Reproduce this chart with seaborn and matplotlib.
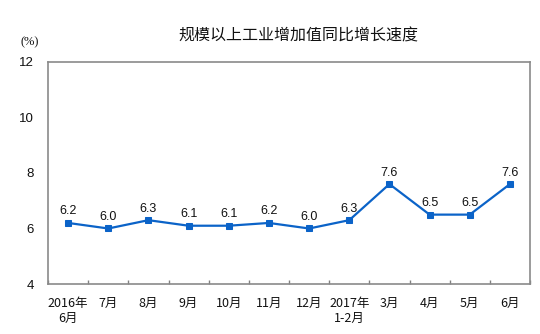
import numpy as np
import pandas as pd
import matplotlib
matplotlib.use("Agg")
import matplotlib.pyplot as plt
import seaborn as sns

months = ["2016年\n6月", "7月", "8月", "9月", "10月", "11月", "12月",
          "2017年\n1-2月", "3月", "4月", "5月", "6月"]
growth = [6.2, 6.0, 6.3, 6.1, 6.1, 6.2, 6.0, 6.3, 7.6, 6.5, 6.5, 7.6]
y_ticks = [4, 6, 8, 10, 12]
title = "规模以上工业增加值同比增长速度"

sns.set_theme(style="white")
plt.rcParams["font.family"] = ["Noto Sans CJK SC", "DejaVu Sans"]

df = pd.DataFrame({"idx": np.arange(len(months)), "growth": growth})

fig = plt.figure(figsize=(5.4, 3.34), dpi=100)
ax = fig.add_axes([0.0889, 0.1497, 0.8926, 0.6647])

blue = "#0b63c8"
sns.lineplot(data=df, x="idx", y="growth", ax=ax, color=blue, linewidth=1.6,
             marker="s", markersize=5, markeredgecolor=blue, markerfacecolor=blue)

for i, v in enumerate(growth):
    ax.annotate(f"{v:.1f}", (i, v), xytext=(0, 4), textcoords="offset points",
                ha="center", va="bottom", fontsize=9, family="Liberation Sans",
                color="#111111")

ax.set_xlim(-0.5, len(months) - 0.5)
ax.set_ylim(4, 12)
ax.set_yticks(y_ticks)
ax.set_yticklabels([str(t) for t in y_ticks], family="Liberation Sans", fontsize=9.5)
ax.set_xticks(np.arange(len(months)))
ax.set_xticklabels(months, fontsize=9, linespacing=1.25, color="#111111")
ax.set_xticks(np.arange(len(months) + 1) - 0.5, minor=True)
ax.tick_params(axis="x", which="major", length=0, pad=9)
ax.tick_params(axis="x", which="minor", direction="in", length=3, width=1,
               color="#808080", bottom=True)
ax.tick_params(axis="y", length=0, pad=10, labelcolor="#111111")
ax.set_xlabel("")
ax.set_ylabel("")

for s in ax.spines.values():
    s.set_color("#8a8a8a")
    s.set_linewidth(1.2)
    s.set_visible(True)
ax.grid(False)

fig.text(0.0555, 0.872, "(%)", fontsize=9, family="Liberation Serif", ha="center",
         va="center", color="#111111")
fig.text(0.553, 0.893, title, fontsize=11.5, ha="center", va="center", color="#111111")

fig.savefig("out.png", dpi=100)
